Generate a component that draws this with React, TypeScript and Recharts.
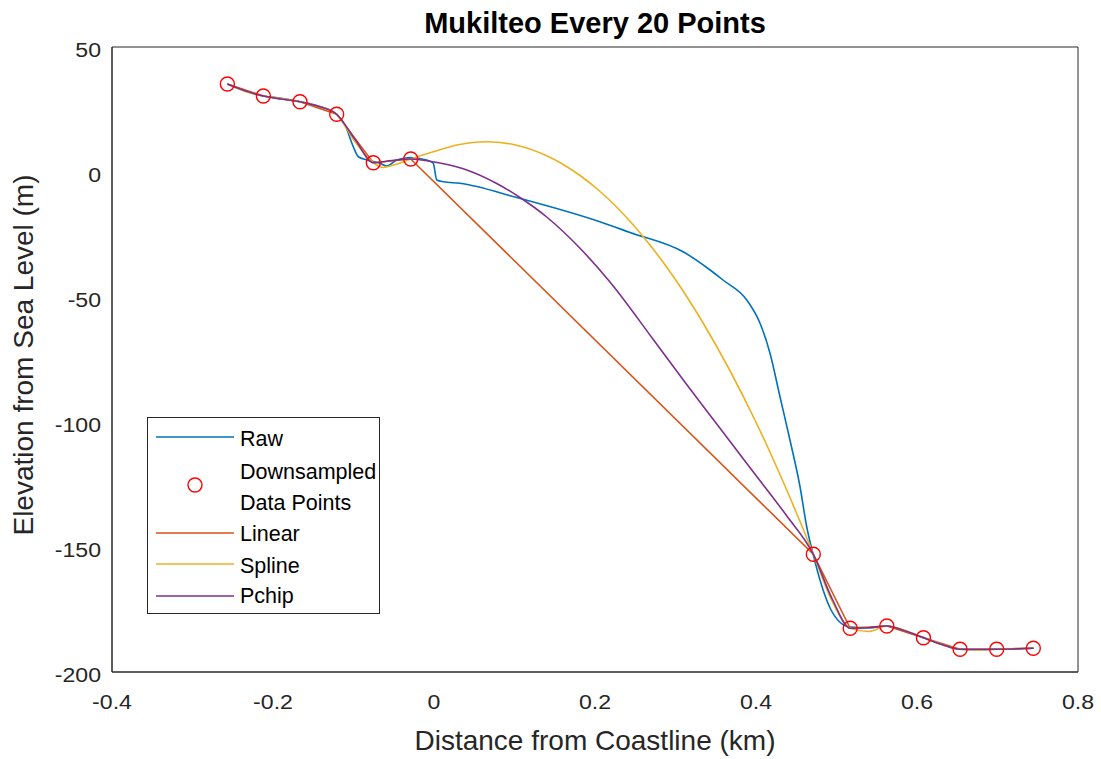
import React from 'react';
import { ComposedChart, Line, Scatter, XAxis, YAxis, Legend } from 'recharts';

const xTicks = [-0.4, -0.2, 0, 0.2, 0.4, 0.6, 0.8];
const yTicks = [-200, -150, -100, -50, 0, 50];

const rawX = [-0.257, -0.235, -0.212, -0.19, -0.1665, -0.145, -0.121, -0.1106, -0.1003, -0.094, -0.0836, -0.067, -0.0588, -0.0463, -0.0298, -0.009, -0.0009, 0.0034, 0.0116, 0.032, 0.1027, 0.206, 0.2435, 0.31, 0.343, 0.359, 0.3885, 0.405, 0.4174, 0.4298, 0.4422, 0.4547, 0.463, 0.4712, 0.4795, 0.492, 0.504, 0.517, 0.54, 0.563, 0.586, 0.609, 0.631, 0.653, 0.676, 0.699, 0.722, 0.745];
const rawY = [35.2, 32.5, 30.4, 29.5, 28.1, 26.5, 23.1, 18.8, 10.1, 6.1, 4.8, 3.5, 2.4, 4.8, 5.8, 4.8, 3.5, -3.2, -3.9, -4.5, -10.2, -19.9, -24.2, -32, -39.2, -43.2, -51.2, -60.5, -72.5, -89.9, -107.2, -125.9, -141.9, -153.2, -163.2, -174.4, -180, -182, -182.3, -181.6, -183.8, -186.3, -189, -190.9, -191.1, -190.9, -190.7, -190.5];

const downX = [-0.2567, -0.212, -0.1665, -0.1209, -0.0754, -0.0289, 0.4712, 0.517, 0.5625, 0.608, 0.6535, 0.699, 0.7445];
const downY = [35.2, 30.4, 28.1, 23.1, 3.7, 5.2, -152.9, -182.5, -181.6, -186.3, -190.9, -190.9, -190.5];

const splineX = [-0.2567, -0.235, -0.212, -0.19, -0.1665, -0.143, -0.1209, -0.1, -0.0754, -0.063, -0.05, -0.0289, 0.0, 0.03, 0.065, 0.1, 0.14, 0.181, 0.206, 0.2435, 0.27, 0.2973, 0.3345, 0.3677, 0.3967, 0.4215, 0.4422, 0.4568, 0.4712, 0.495, 0.517, 0.54, 0.5625, 0.586, 0.608, 0.631, 0.6535, 0.676, 0.699, 0.722, 0.7445];
const splineY = [35.2, 32.3, 30.4, 29.4, 28.1, 26.3, 23.1, 13, 3.7, 1.8, 2.8, 5.2, 8.2, 10.9, 12.1, 10.9, 6.5, -1.3, -7.7, -19.7, -29.9, -41.8, -60.5, -79.5, -97.9, -115, -130.2, -141.4, -152.9, -172, -182.5, -183.8, -181.6, -183.5, -186.3, -189, -190.9, -191.2, -190.9, -190.6, -190.5];

const pchipX = [-0.2567, -0.235, -0.212, -0.19, -0.1665, -0.143, -0.1209, -0.098, -0.0754, -0.052, -0.0289, -0.005, 0.0364, 0.0779, 0.1068, 0.14, 0.1814, 0.2186, 0.2724, 0.3139, 0.3553, 0.3967, 0.4381, 0.4712, 0.495, 0.517, 0.54, 0.5625, 0.586, 0.608, 0.631, 0.6535, 0.699, 0.7445];
const pchipY = [35.2, 32.5, 30.4, 29.2, 28.1, 26.2, 23.1, 13, 3.7, 4.6, 5.2, 4.3, 1.3, -4.6, -10.2, -18, -30.5, -44, -67, -85, -102.5, -120, -137.5, -152.9, -171, -182.5, -182.3, -181.6, -183.6, -186.3, -189, -190.9, -190.9, -190.5];

const zip = (xs: number[], ys: number[]) => xs.map((x, i) => ({ x, y: ys[i] }));
const rawData = zip(rawX, rawY);
const downData = zip(downX, downY);
const splineData = zip(splineX, splineY);
const pchipData = zip(pchipX, pchipY);

const BLUE = '#0072BD';
const ORANGE = '#D95319';
const YELLOW = '#EDB120';
const PURPLE = '#7E2F8E';
const RED = '#FF0000';
const AX = '#262626';
const FONT = '"Liberation Sans", Arial, Helvetica, sans-serif';

const XTick = (props: any) => {
  const { x, y, payload } = props;
  return (
    <text transform={`translate(${x},${y + 27}) scale(1.1,1)`} textAnchor="middle" fontSize={21} fill={AX} fontFamily={FONT}>
      {String(payload.value)}
    </text>
  );
};

const YTick = (props: any) => {
  const { x, y, payload } = props;
  return (
    <text transform={`translate(${x},${y + 10}) scale(1.1,1)`} textAnchor="end" fontSize={21} fill={AX} fontFamily={FONT}>
      {String(payload.value)}
    </text>
  );
};

const RedCircle = (props: any) => {
  const { cx, cy } = props;
  if (cx == null || cy == null) return null;
  return <circle cx={cx} cy={cy} r={7} fill="none" stroke={RED} strokeWidth={1.4} />;
};

const legendRows: { label: string; color: string; kind: 'line' | 'circle' | 'none'; y: number; ty: number }[] = [
  { label: 'Raw', color: BLUE, kind: 'line', y: 20, ty: 21 },
  { label: 'Downsampled', color: RED, kind: 'circle', y: 68, ty: 54 },
  { label: 'Data Points', color: RED, kind: 'none', y: 0, ty: 85 },
  { label: 'Linear', color: ORANGE, kind: 'line', y: 116, ty: 116 },
  { label: 'Spline', color: YELLOW, kind: 'line', y: 147, ty: 148 },
  { label: 'Pchip', color: PURPLE, kind: 'line', y: 179, ty: 178 },
];

const LegendBox = () => (
  <svg width={234} height={198} style={{ display: 'block', overflow: 'visible' }}>
    <rect x={0.5} y={0.5} width={232} height={196} fill="#fff" stroke={AX} strokeWidth={1} />
    {legendRows.map((r) => (
      <g key={r.label}>
        {r.kind === 'line' && <line x1={9} x2={87} y1={r.y} y2={r.y} stroke={r.color} strokeWidth={1.6} />}
        {r.kind === 'circle' && <circle cx={48} cy={r.y} r={7} fill="none" stroke={r.color} strokeWidth={1.4} />}
        <text x={93} y={r.ty + 8} fontSize={21.5} fill="#000" fontFamily={FONT}>{r.label}</text>
      </g>
    ))}
  </svg>
);

export default function App() {
  return (
    <div style={{ position: 'absolute', left: 0, top: 0, width: 1101, height: 759, background: '#fff', fontFamily: FONT }}>
      <ComposedChart width={1101} height={759} margin={{ top: 47, right: 23, bottom: 27, left: 32 }}>
        <XAxis xAxisId={0} type="number" dataKey="x" domain={[-0.4, 0.8]} ticks={xTicks} allowDataOverflow
          height={60} tickLine={false} tickSize={10} tickMargin={0}
          axisLine={{ stroke: AX }} tick={<XTick />} />
        <XAxis xAxisId="xb" type="number" dataKey="x" domain={[-0.4, 0.8]} ticks={xTicks} allowDataOverflow
          orientation="bottom" mirror tick={false} tickSize={8} tickLine={{ stroke: AX }} axisLine={{ stroke: AX }} />
        <XAxis xAxisId="xt" type="number" dataKey="x" domain={[-0.4, 0.8]} ticks={xTicks} allowDataOverflow
          orientation="top" mirror tick={false} tickSize={8} tickLine={{ stroke: AX }} axisLine={{ stroke: AX }} />
        <YAxis yAxisId={0} type="number" domain={[-200, 50]} ticks={yTicks} allowDataOverflow
          width={80} tickLine={false} tickSize={11} tickMargin={0}
          axisLine={{ stroke: AX }} tick={<YTick />} />
        <YAxis yAxisId="yl" type="number" domain={[-200, 50]} ticks={yTicks} allowDataOverflow
          orientation="left" mirror tick={false} tickSize={8} tickLine={{ stroke: AX }} axisLine={{ stroke: AX }} />
        <YAxis yAxisId="yr" type="number" domain={[-200, 50]} ticks={yTicks} allowDataOverflow
          orientation="right" mirror tick={false} tickSize={8} tickLine={{ stroke: AX }} axisLine={{ stroke: AX }} />
        <Line data={rawData} dataKey="y" name="Raw" type="monotoneX" stroke={BLUE} strokeWidth={1.6} dot={false} isAnimationActive={false} />
        <Scatter data={downData} dataKey="y" name="Downsampled Data Points" shape={<RedCircle />} isAnimationActive={false} />
        <Line data={downData} dataKey="y" name="Linear" type="linear" stroke={ORANGE} strokeWidth={1.6} dot={false} isAnimationActive={false} />
        <Line data={splineData} dataKey="y" name="Spline" type="monotoneX" stroke={YELLOW} strokeWidth={1.6} dot={false} isAnimationActive={false} />
        <Line data={pchipData} dataKey="y" name="Pchip" type="monotoneX" stroke={PURPLE} strokeWidth={1.6} dot={false} isAnimationActive={false} />
        <Legend layout="vertical" align="center" verticalAlign="middle" content={() => <LegendBox />}
          wrapperStyle={{ position: 'absolute', left: 147, top: 417, width: 234, height: 198, right: 'auto', bottom: 'auto' }} />
      </ComposedChart>
      <div style={{ position: 'absolute', left: 112, width: 966, top: 6, textAlign: 'center', fontSize: 29, fontWeight: 'bold', color: '#000', lineHeight: '34px' }}>
        Mukilteo Every 20 Points
      </div>
      <div style={{ position: 'absolute', left: 112, width: 966, top: 725, textAlign: 'center', fontSize: 28, color: AX, lineHeight: '32px' }}>
        Distance from Coastline (km)
      </div>
      <div style={{ position: 'absolute', left: 24, top: 355, width: 0, height: 0 }}>
        <div style={{ position: 'absolute', left: -250, top: -16, width: 500, textAlign: 'center', fontSize: 28, color: AX, lineHeight: '32px', transform: 'rotate(-90deg)', whiteSpace: 'nowrap' }}>
          Elevation from Sea Level (m)
        </div>
      </div>
    </div>
  );
}
